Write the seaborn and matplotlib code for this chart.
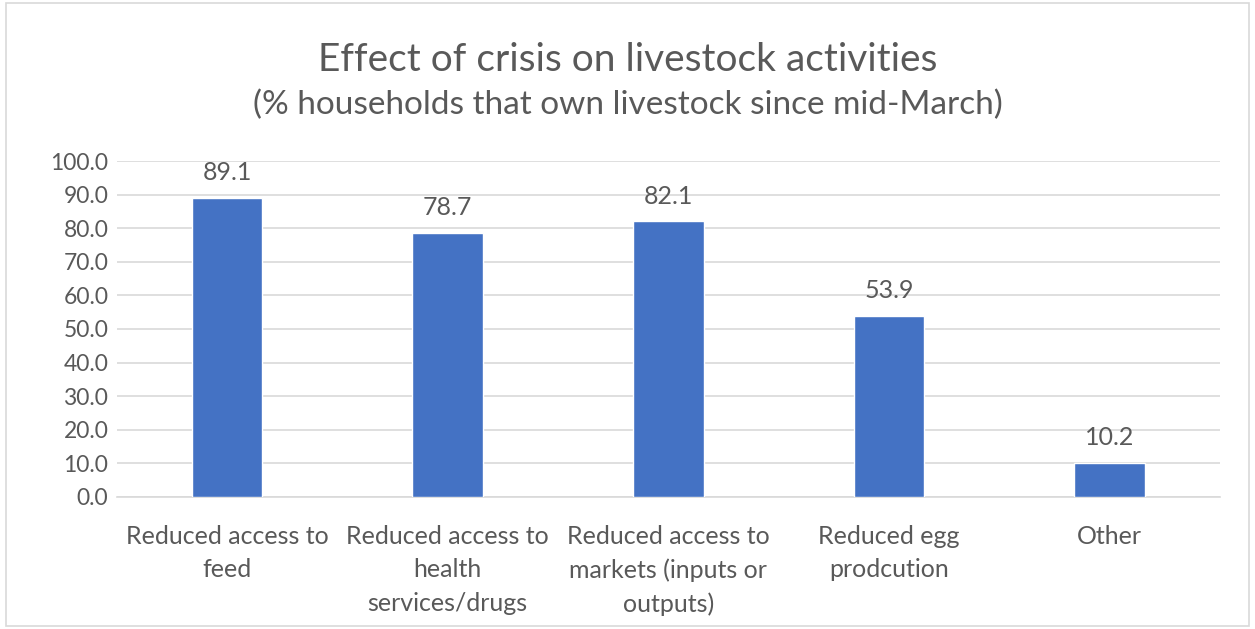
import pandas as pd
import matplotlib
matplotlib.use('Agg')
import matplotlib.pyplot as plt
import seaborn as sns

# values
categories = ['Reduced access to\nfeed',
              'Reduced access to\nhealth\nservices/drugs',
              'Reduced access to\nmarkets (inputs or\noutputs)',
              'Reduced egg\nprodcution',
              'Other']
values = [89.1, 78.7, 82.1, 53.9, 10.2]
yticks = [0, 10, 20, 30, 40, 50, 60, 70, 80, 90, 100]

df = pd.DataFrame({'effect': categories, 'pct': values})

sns.set_theme(style='white')
plt.rcParams['font.family'] = ['Lato', 'DejaVu Sans']
grey = '#595959'

fig = plt.figure(figsize=(12.55, 6.29), dpi=100)
ax = fig.add_axes([0.093, 0.21, 0.879, 0.534])

sns.barplot(data=df, x='effect', y='pct', color='#4472C4', saturation=1,
            width=0.32, ax=ax, zorder=3)

ax.set_ylim(0, 100)
ax.set_yticks(yticks)
ax.set_yticklabels([f'{v:.1f}' for v in yticks], color=grey, fontsize=16.5)
ax.yaxis.grid(True, color='#d9d9d9', linewidth=1.2, zorder=0)
ax.tick_params(axis='x', colors=grey, labelsize=18, length=0, pad=20)
ax.tick_params(axis='y', length=0, pad=6)
for lbl in ax.get_xticklabels():
    lbl.set_color(grey)
    lbl.set_linespacing(1.55)
ax.set_xlabel('')
ax.set_ylabel('')
for s in ['top', 'right', 'left']:
    ax.spines[s].set_visible(False)
ax.spines['bottom'].set_color('#d9d9d9')
ax.spines['bottom'].set_linewidth(1.2)

for p, v in zip(ax.patches, values):
    ax.text(p.get_x() + p.get_width() / 2, v + 4, f'{v:.1f}',
            ha='center', va='bottom', fontsize=18, color=grey)

fig.text(0.5, 0.905, 'Effect of crisis on livestock activities',
         ha='center', va='center', fontsize=28, color=grey)
fig.text(0.5, 0.833, '(% households that own livestock since mid-March)',
         ha='center', va='center', fontsize=24, color=grey)

# light frame around the chart area
fig.patches.append(plt.Rectangle((0.005, 0.005), 0.99, 0.99, transform=fig.transFigure,
                                 fill=False, edgecolor='#d9d9d9', linewidth=1.2))

fig.savefig('out.png', dpi=100)
